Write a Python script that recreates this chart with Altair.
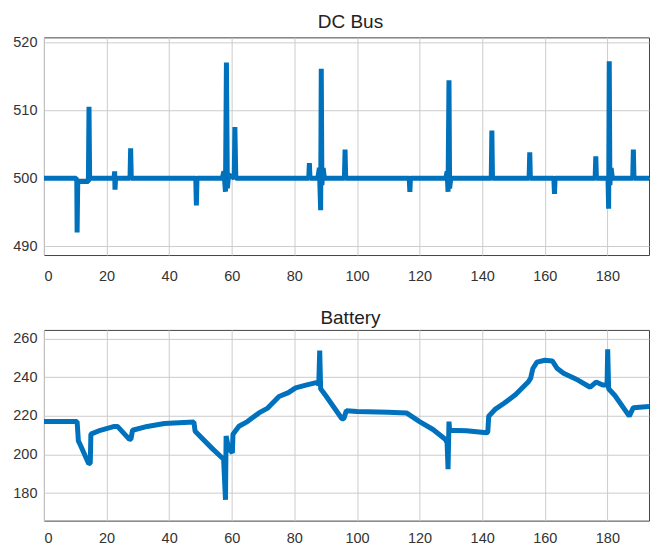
import altair as alt
import pandas as pd

# ---- DC Bus voltage ----
dc_t = [0, 10.3, 10.5, 10.6, 10.8, 14.2, 14.4, 14.6, 22.4, 22.6, 22.7, 22.9,
        27.5, 27.7, 27.9, 48.5, 48.7, 48.9, 57.0, 57.5, 58.0, 58.3, 58.6, 59.0,
        60.8, 61.0, 61.3, 84.6, 84.8, 85.0, 87.5, 88.0, 88.4, 88.6, 88.8, 89.2,
        89.6, 96.0, 96.2, 96.4, 116.7, 116.9, 117.1, 128.4, 128.8, 129.1, 129.4,
        129.6, 130.0, 142.9, 143.1, 143.3, 155.0, 155.2, 155.4, 162.9, 163.1,
        163.3, 176.1, 176.3, 176.5, 180.2, 180.4, 180.6, 180.8, 181.2, 181.6,
        188.1, 188.3, 188.5, 193.3]
dc_v = [500, 500, 499.5, 492, 499.5, 499.5, 510.5, 500, 500, 501, 498.3, 500,
        500, 504.4, 500, 500, 496, 500, 500, 501, 498, 517, 498.5, 500.5,
        500, 507.5, 500, 500, 502.2, 500, 500, 501.5, 495.3, 516.1, 499, 501.5,
        500, 500, 504.2, 500, 500, 498, 500, 500, 501, 498, 514.4,
        498.5, 500, 500, 507, 500, 500, 503.8, 500, 500, 497.7,
        500, 500, 503.2, 500, 500, 495.5, 517.2, 499, 501.5, 500,
        500, 504.2, 500, 500]

# ---- Battery voltage ----
bat_t = [0, 10.6, 11.0, 11.6, 14.3, 14.8, 15.0, 18, 22.5, 23.5, 27.3, 27.8,
         28.3, 33, 38.5, 47.9, 48.3, 53.8, 57.4, 58.0, 58.2, 59.0, 60.2, 60.4,
         62.3, 65, 68.7, 71.5, 75.1, 78.1, 80.4, 84, 87.3, 87.8, 88.1, 88.4,
         90, 95.2, 95.8, 96.6, 100, 110, 115.8, 120, 124.3, 128.3, 128.8,
         129.1, 129.4, 129.6, 135, 141.4, 141.8, 142.1, 144.1, 147, 150.7,
         154.7, 155.5, 156.2, 157.5, 160, 162.4, 164, 166, 170.6, 174.5,
         176.4, 178.5, 179.9, 180.1, 180.4, 182.4, 187, 188.3, 193.3]
bat_v = [217, 217, 207, 205, 195.2, 195.5, 210.5, 212.5, 214.5, 214.5, 207.8, 208,
         212.5, 214.5, 216, 216.8, 212, 203, 197.5, 176.5, 209.5, 203, 200.8, 210.5,
         214.6, 217, 221.5, 224, 230, 232, 234.5, 236, 237.3, 236, 253.8, 234,
         230.5, 218.5, 218.5, 222.6, 222.2, 221.8, 221.5, 217, 212.9, 207.7, 206,
         192.3, 217, 212.5, 212.3, 211.2, 211.5, 219.8, 223.3, 226.5, 231,
         237.5, 239.5, 244.5, 247.8, 248.8, 248.4, 244.5, 242, 238.5, 234.8,
         237.5, 236, 236, 254.5, 234, 230.5, 219.8, 224.2, 224.8]

x_ticks = [0, 20, 40, 60, 80, 100, 120, 140, 160, 180]
dc_ticks = [490, 500, 510, 520]
bat_ticks = [180, 200, 220, 240, 260]

FONT = "Liberation Sans"
BLUE = "#0072BD"

dc_df = pd.DataFrame({"t": dc_t, "v": dc_v})
bat_df = pd.DataFrame({"t": bat_t, "v": bat_v})


def xaxis(pad):
    return alt.Axis(values=x_ticks, title=None, grid=True, domain=False, ticks=False,
                    labelPadding=pad, labelFontSize=14.5, labelColor="#333333",
                    labelFont=FONT, gridColor="#cccccc")


def yaxis(vals):
    return alt.Axis(values=vals, title=None, grid=True, domain=False, ticks=False,
                    labelPadding=7, labelFontSize=14.5, labelColor="#333333",
                    labelFont=FONT, gridColor="#cccccc")


def title(txt):
    return alt.TitleParams(txt, fontSize=19, fontWeight="normal", font=FONT,
                           color="#222222", frame="group", anchor="middle",
                           baseline="top", offset=2, dx=4)


top = alt.Chart(dc_df, title=title("DC Bus")).mark_line(
    color=BLUE, strokeWidth=5, strokeJoin="bevel", clip=True
).encode(
    x=alt.X("t:Q", scale=alt.Scale(domain=[0, 193.3], nice=False, zero=False), axis=xaxis(15)),
    y=alt.Y("v:Q", scale=alt.Scale(domain=[488.7, 520.7], nice=False, zero=False),
            axis=yaxis(dc_ticks)),
    order="t:Q",
).properties(width=606, height=218)

bottom = alt.Chart(bat_df, title=title("Battery")).mark_line(
    color=BLUE, strokeWidth=5, strokeJoin="bevel", clip=True
).encode(
    x=alt.X("t:Q", scale=alt.Scale(domain=[0, 193.3], nice=False, zero=False), axis=xaxis(11)),
    y=alt.Y("v:Q", scale=alt.Scale(domain=[165.7, 264.5], nice=False, zero=False),
            axis=yaxis(bat_ticks)),
    order="t:Q",
).properties(width=606, height=191)

chart = alt.vconcat(top, bottom, spacing=24).properties(
    padding={"left": 12, "top": 12, "right": 0, "bottom": 0},
    background="white",
).configure_view(stroke="#444444", strokeWidth=1)

chart.save("out.html", embed_options={"renderer": "svg", "actions": False})
